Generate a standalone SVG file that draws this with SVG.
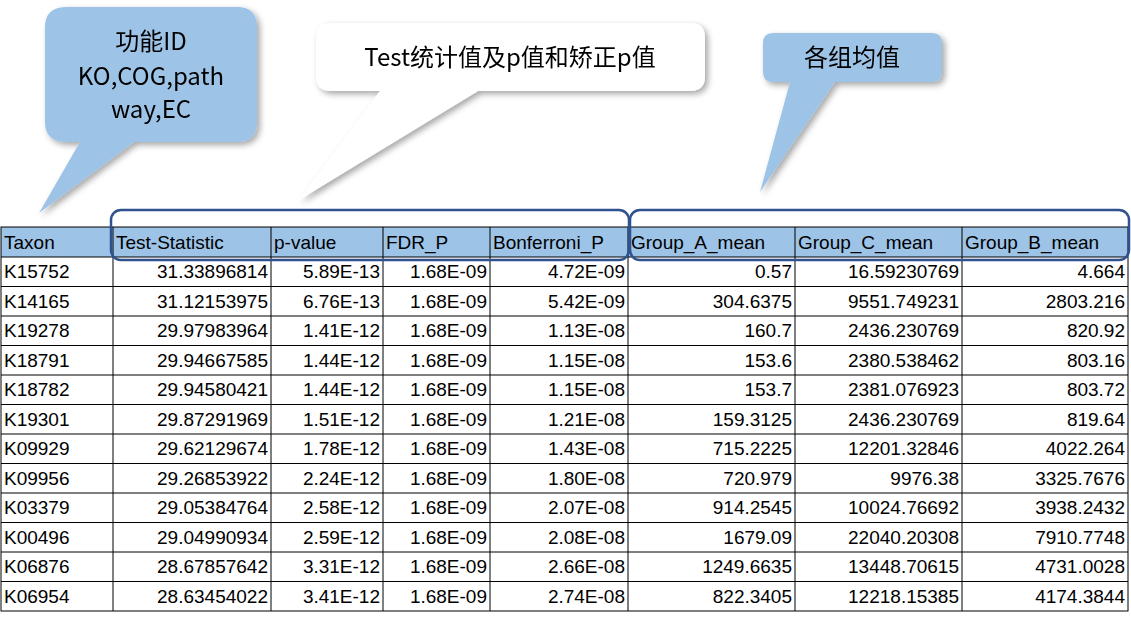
<svg xmlns="http://www.w3.org/2000/svg" width="1131" height="625" viewBox="0 0 1131 625">
<style>
.t{font-family:"Liberation Sans","Noto Sans CJK SC",sans-serif;font-size:19px;fill:#000}
.r{text-anchor:end}
.c{font-family:"Noto Sans CJK SC","Liberation Sans",sans-serif;font-size:24px;text-anchor:middle;fill:#000}
.g{stroke:#000;stroke-width:1}
.hl{fill:none;stroke:#2f528f;stroke-width:2.5}
</style>
<defs><filter id="sh" x="-10%" y="-10%" width="130%" height="130%"><feDropShadow dx="3" dy="3" stdDeviation="3" flood-color="#000" flood-opacity="0.35"/></filter></defs>
<g id="callout1" filter="url(#sh)">
<path d="M67,7 H237 Q257,7 257,27 V122 Q257,142 237,142 H134 L39,213 L80,142 H67 Q45,142 45,122 V27 Q45,7 67,7 Z" fill="#9dc3e6"/>
<text class="c" x="151" y="50">功能ID</text>
<text class="c" x="151" y="85">KO,COG,path</text>
<text class="c" x="151" y="118">way,EC</text>
</g>
<g id="callout2" filter="url(#sh)">
<path d="M331,23 H690 Q705,23 705,38 V76 Q705,91 690,91 H478 L299,200 L380,91 H331 Q316,91 316,76 V38 Q316,23 331,23 Z" fill="#fff"/>
<text class="c" x="510" y="66">Test统计值及p值和矫正p值</text>
</g>
<g id="callout3" filter="url(#sh)">
<path d="M773,33 H932 Q942,33 942,43 V72 Q942,82 932,82 H835 L760,192 L790,82 H773 Q763,82 763,72 V43 Q763,33 773,33 Z" fill="#9dc3e6"/>
<text class="c" x="852" y="66">各组均值</text>
</g>
<g id="table">
<rect x="1" y="227" width="1127" height="30" fill="#9dc3e6"/>
<rect x="1" y="227" width="1127" height="384" fill="none" class="g"/>
<g class="g">
<line x1="1" y1="257" x2="1128" y2="257"/><line x1="1" y1="286.5" x2="1128" y2="286.5"/><line x1="1" y1="316" x2="1128" y2="316"/><line x1="1" y1="345.5" x2="1128" y2="345.5"/><line x1="1" y1="375" x2="1128" y2="375"/><line x1="1" y1="404.5" x2="1128" y2="404.5"/><line x1="1" y1="434" x2="1128" y2="434"/><line x1="1" y1="463.5" x2="1128" y2="463.5"/><line x1="1" y1="493" x2="1128" y2="493"/><line x1="1" y1="522.5" x2="1128" y2="522.5"/><line x1="1" y1="552" x2="1128" y2="552"/><line x1="1" y1="581.5" x2="1128" y2="581.5"/>
<line x1="113" y1="227" x2="113" y2="611"/><line x1="271" y1="227" x2="271" y2="611"/><line x1="383" y1="227" x2="383" y2="611"/><line x1="490" y1="227" x2="490" y2="611"/><line x1="628" y1="227" x2="628" y2="611"/><line x1="795" y1="227" x2="795" y2="611"/><line x1="962" y1="227" x2="962" y2="611"/>
</g>
<g class="t">
<text x="4" y="249">Taxon</text><text x="116" y="249">Test-Statistic</text><text x="274" y="249">p-value</text><text x="386" y="249">FDR_P</text><text x="493" y="249">Bonferroni_P</text><text x="631" y="249">Group_A_mean</text><text x="798" y="249">Group_C_mean</text><text x="965" y="249">Group_B_mean</text>
</g>
<g class="t">
<text x="4" y="278">K15752</text><text x="4" y="307.5">K14165</text><text x="4" y="337">K19278</text><text x="4" y="366.5">K18791</text><text x="4" y="396">K18782</text><text x="4" y="425.5">K19301</text><text x="4" y="455">K09929</text><text x="4" y="484.5">K09956</text><text x="4" y="514">K03379</text><text x="4" y="543.5">K00496</text><text x="4" y="573">K06876</text><text x="4" y="602.5">K06954</text>
</g>
<g class="t r">
<text x="268" y="278">31.33896814</text><text x="380" y="278">5.89E-13</text><text x="487" y="278">1.68E-09</text><text x="625" y="278">4.72E-09</text><text x="792" y="278">0.57</text><text x="959" y="278">16.59230769</text><text x="1125" y="278">4.664</text>
<text x="268" y="307.5">31.12153975</text><text x="380" y="307.5">6.76E-13</text><text x="487" y="307.5">1.68E-09</text><text x="625" y="307.5">5.42E-09</text><text x="792" y="307.5">304.6375</text><text x="959" y="307.5">9551.749231</text><text x="1125" y="307.5">2803.216</text>
<text x="268" y="337">29.97983964</text><text x="380" y="337">1.41E-12</text><text x="487" y="337">1.68E-09</text><text x="625" y="337">1.13E-08</text><text x="792" y="337">160.7</text><text x="959" y="337">2436.230769</text><text x="1125" y="337">820.92</text>
<text x="268" y="366.5">29.94667585</text><text x="380" y="366.5">1.44E-12</text><text x="487" y="366.5">1.68E-09</text><text x="625" y="366.5">1.15E-08</text><text x="792" y="366.5">153.6</text><text x="959" y="366.5">2380.538462</text><text x="1125" y="366.5">803.16</text>
<text x="268" y="396">29.94580421</text><text x="380" y="396">1.44E-12</text><text x="487" y="396">1.68E-09</text><text x="625" y="396">1.15E-08</text><text x="792" y="396">153.7</text><text x="959" y="396">2381.076923</text><text x="1125" y="396">803.72</text>
<text x="268" y="425.5">29.87291969</text><text x="380" y="425.5">1.51E-12</text><text x="487" y="425.5">1.68E-09</text><text x="625" y="425.5">1.21E-08</text><text x="792" y="425.5">159.3125</text><text x="959" y="425.5">2436.230769</text><text x="1125" y="425.5">819.64</text>
<text x="268" y="455">29.62129674</text><text x="380" y="455">1.78E-12</text><text x="487" y="455">1.68E-09</text><text x="625" y="455">1.43E-08</text><text x="792" y="455">715.2225</text><text x="959" y="455">12201.32846</text><text x="1125" y="455">4022.264</text>
<text x="268" y="484.5">29.26853922</text><text x="380" y="484.5">2.24E-12</text><text x="487" y="484.5">1.68E-09</text><text x="625" y="484.5">1.80E-08</text><text x="792" y="484.5">720.979</text><text x="959" y="484.5">9976.38</text><text x="1125" y="484.5">3325.7676</text>
<text x="268" y="514">29.05384764</text><text x="380" y="514">2.58E-12</text><text x="487" y="514">1.68E-09</text><text x="625" y="514">2.07E-08</text><text x="792" y="514">914.2545</text><text x="959" y="514">10024.76692</text><text x="1125" y="514">3938.2432</text>
<text x="268" y="543.5">29.04990934</text><text x="380" y="543.5">2.59E-12</text><text x="487" y="543.5">1.68E-09</text><text x="625" y="543.5">2.08E-08</text><text x="792" y="543.5">1679.09</text><text x="959" y="543.5">22040.20308</text><text x="1125" y="543.5">7910.7748</text>
<text x="268" y="573">28.67857642</text><text x="380" y="573">3.31E-12</text><text x="487" y="573">1.68E-09</text><text x="625" y="573">2.66E-08</text><text x="792" y="573">1249.6635</text><text x="959" y="573">13448.70615</text><text x="1125" y="573">4731.0028</text>
<text x="268" y="602.5">28.63454022</text><text x="380" y="602.5">3.41E-12</text><text x="487" y="602.5">1.68E-09</text><text x="625" y="602.5">2.74E-08</text><text x="792" y="602.5">822.3405</text><text x="959" y="602.5">12218.15385</text><text x="1125" y="602.5">4174.3844</text>
</g>
</g>
<g id="highlights">
<rect class="hl" x="111" y="210" width="518" height="50" rx="10"/>
<rect class="hl" x="630" y="210" width="499" height="50" rx="10"/>
</g>
</svg>
